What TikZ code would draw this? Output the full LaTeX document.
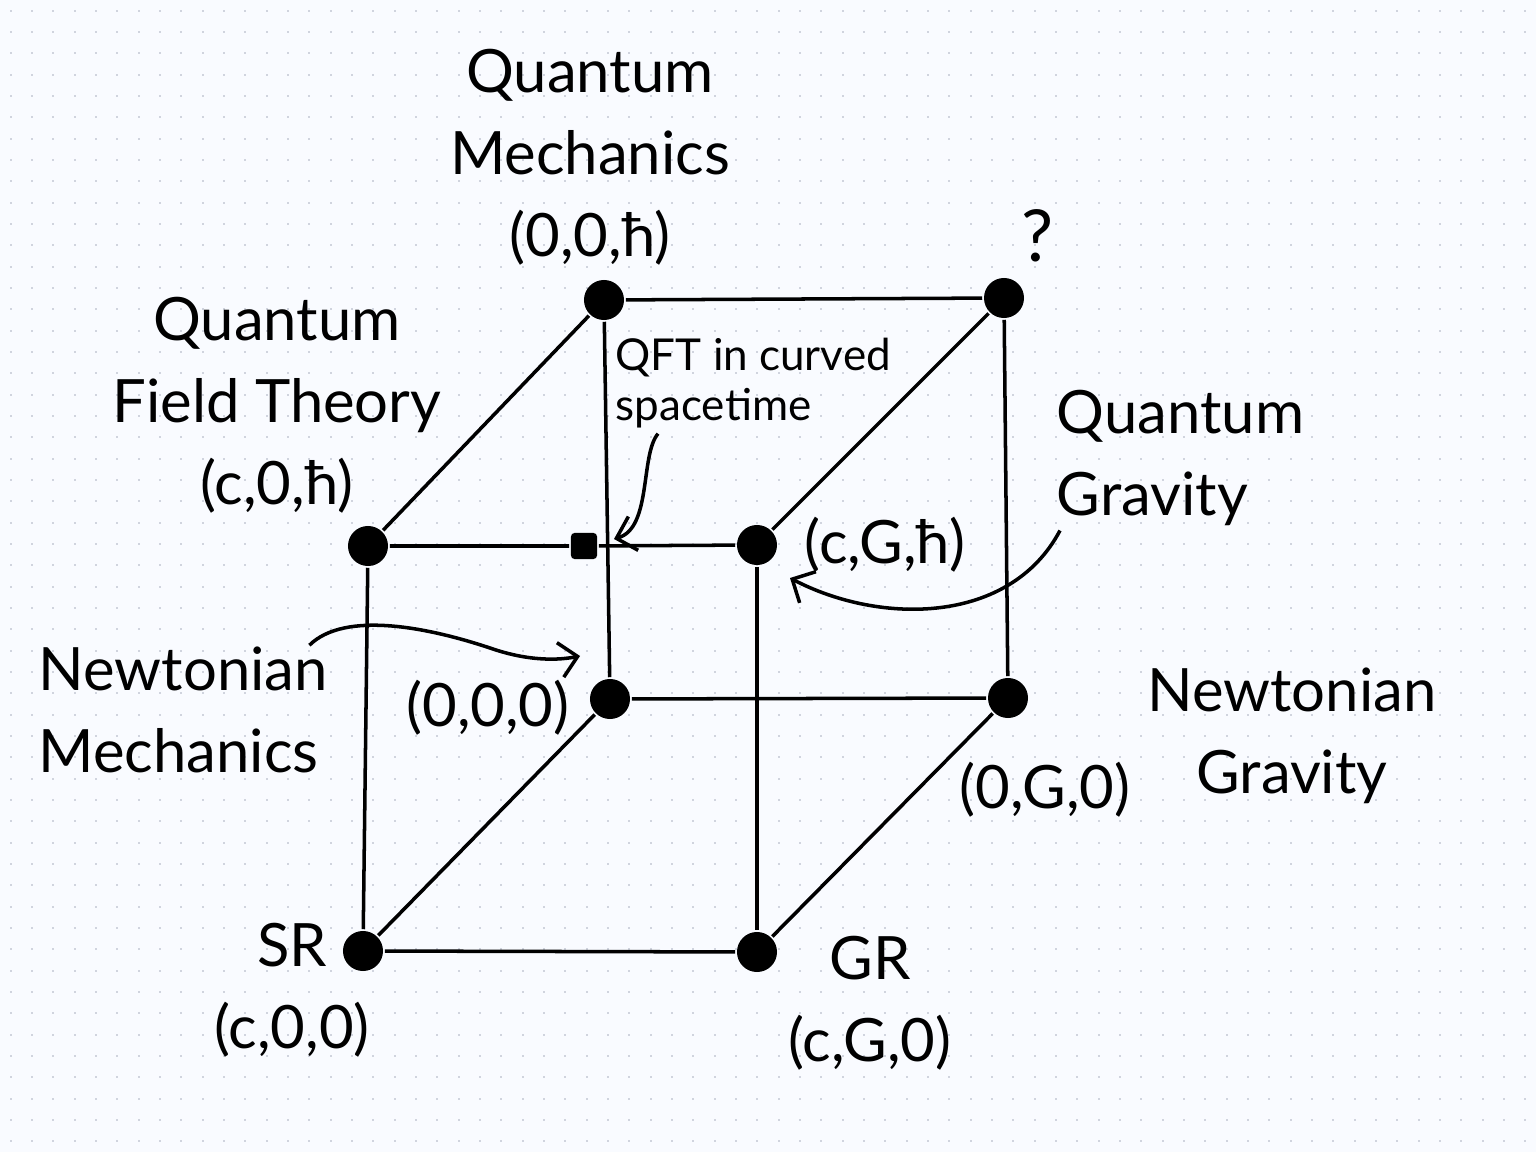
\documentclass[tikz,border=0pt]{standalone}
\usepackage{fontspec}
\setmainfont{Lato}
\usetikzlibrary{arrows.meta}
\definecolor{paper}{RGB}{249,251,255}
\definecolor{griddot}{RGB}{208,212,222}

\begin{document}
\begin{tikzpicture}[
    x=0.01cm, y=-0.01cm,
    >={Straight Barb[length=5pt,width=10pt]},
    line width=1pt,
    theory/.style={circle, fill=black, inner sep=0pt, minimum size=0.4cm},
    marker/.style={rectangle, fill=black, rounded corners=1pt, inner sep=0pt, minimum size=0.26cm},
    txt/.style={font=\fontsize{17}{23.3}\selectfont, align=center, inner sep=0pt},
    txtleft/.style={txt, align=left, anchor=west},
    note/.style={font=\fontsize{12.5}{14.2}\selectfont, align=left, anchor=west, inner sep=0pt}
]
\useasboundingbox (0,0) rectangle (1536,1152);
\fill[paper] (0,0) rectangle (1536,1152);
\foreach \i in {0,...,71}
  \foreach \j in {0,...,53}
    \fill[griddot] ({9.7+21.333*\i},{9.7+21.333*\j}) rectangle ++(2,2);

% corners of the cube
\node[theory] (qm)  at (604,300) {};
\node[theory] (toe) at (1004,298) {};
\node[theory] (qft) at (368,546) {};
\node[theory] (qg)  at (757,545) {};
\node[theory] (nm)  at (610,699) {};
\node[theory] (ng)  at (1008,698) {};
\node[theory] (sr)  at (363,951) {};
\node[theory] (gr)  at (757,952) {};
\node[marker] (curved) at (584,546) {};

% edges
\draw (qm) -- (toe);
\draw (qm) -- (qft);
\draw (qm) -- (nm);
\draw (toe) -- (qg);
\draw (toe) -- (ng);
\draw (qft) -- (curved) -- (qg);
\draw (qft) -- (sr);
\draw (qg) -- (gr);
\draw (nm) -- (ng);
\draw (nm) -- (sr);
\draw (ng) -- (gr);
\draw (sr) -- (gr);

% labels
\node[txt] (qmlabel) at (590,157) {Quantum\\Mechanics\\(0,0,ħ)};
\node[txt, scale=1.2] (toelabel) at (1038,236) {?};
\node[txt] (qftlabel) at (277,405) {Quantum\\Field Theory\\(c,0,ħ)};
\node[note] (curvedlabel) at (614,383) {QFT in curved\\spacetime};
\node[txtleft] (qglabel) at (1055,458) {Quantum\\Gravity};
\node[txt] (qgcoord) at (885,545) {(c,G,ħ)};
\node[txtleft] (nmlabel) at (37,710) {Newtonian\\Mechanics};
\node[txt] (nmcoord) at (488,708) {(0,0,0)};
\node[txt] (nglabel) at (1292,736) {Newtonian\\Gravity};
\node[txt] (ngcoord) at (1045,790) {(0,G,0)};
\node[txt] (srlabel) at (292,990) {SR\\(c,0,0)};
\node[txt] (grlabel) at (870,1003) {GR\\(c,G,0)};

% pointers
\coordinate (curvedtip) at (614,539);
\coordinate (nmtip) at (580,656);
\coordinate (qgtip) at (790,578);
\draw[->] ([xshift=0.44cm,yshift=-0.04cm]curvedlabel.south west) .. controls (640,455) and (652,528) .. (curvedtip);
\draw[->] ([xshift=-0.2cm]nmlabel.north east) .. controls (345,610) and (430,628) .. (490,648) .. controls (530,662) and (560,660) .. (nmtip);
\draw[->] ([xshift=0.05cm,yshift=-0.03cm]qglabel.south west) .. controls (1010,625) and (880,625) .. (qgtip);
\end{tikzpicture}
\end{document}
